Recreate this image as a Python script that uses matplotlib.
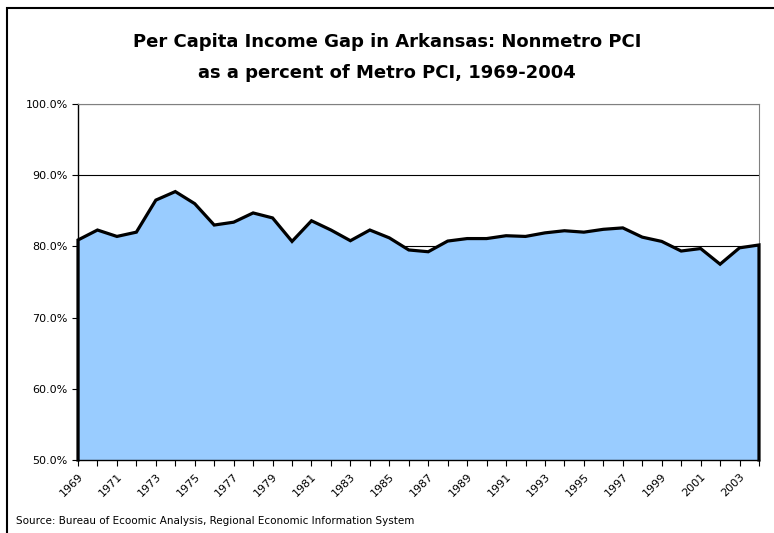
import matplotlib
matplotlib.use("Agg")
import matplotlib.pyplot as plt
from matplotlib.patches import Rectangle
from matplotlib.ticker import FuncFormatter

years = list(range(1969, 2005))
pct = [80.9, 82.3, 81.4, 82.0, 86.5, 87.7, 86.0, 83.0, 83.4, 84.7,
       84.0, 80.7, 83.6, 82.3, 80.8, 82.3, 81.2, 79.5, 79.25, 80.75,
       81.1, 81.1, 81.5, 81.4, 81.9, 82.2, 82.0, 82.4, 82.6, 81.3,
       80.7, 79.35, 79.7, 77.5, 79.8, 80.2]
yticks = [50, 60, 70, 80, 90, 100]

fig = plt.figure(figsize=(7.74, 5.33), dpi=100)
W, H = 774, 533
ax = fig.add_axes([78 / W, 1 - 460 / H, (759 - 78) / W, (460 - 104) / H])

# chart frame
fig.patches.append(Rectangle((7 / W, -0.05), 1.1, 1 - 8 / H + 0.05,
                             transform=fig.transFigure, fill=False,
                             edgecolor="black", linewidth=1.5))

for v in yticks[1:]:
    ax.axhline(v, color="black", linewidth=0.8, zorder=1)

ax.fill_between(years, pct, 50, color="#99CCFF", zorder=2, linewidth=0)
xs = [years[0]] + years + [years[-1]]
ys = [50] + pct + [50]
ax.plot(xs, ys, color="black", linewidth=2.3, zorder=3,
        solid_joinstyle="miter", clip_on=False)

ax.set_xlim(years[0], years[-1])
ax.set_ylim(50, 100)
ax.set_yticks(yticks)
ax.yaxis.set_major_formatter(FuncFormatter(lambda v, p: f"{v:.1f}%"))
ax.set_xticks(years)
ax.set_xticklabels([str(y) if (y - 1969) % 2 == 0 else "" for y in years],
                   rotation=45, ha="right", va="top", rotation_mode="anchor")
ax.tick_params(axis="both", direction="out", length=4, width=0.8,
               labelsize=8, colors="black")
ax.tick_params(axis="x", pad=4)

for s in ["top", "right"]:
    ax.spines[s].set_color("#808080")
    ax.spines[s].set_linewidth(0.8)
ax.spines["left"].set_linewidth(1.0)
ax.spines["bottom"].set_linewidth(1.0)

fig.text(0.5, 1 - 42 / H, "Per Capita Income Gap in Arkansas: Nonmetro PCI",
         ha="center", va="center", fontsize=13, fontweight="bold")
fig.text(0.5, 1 - 73 / H, "as a percent of Metro PCI, 1969-2004",
         ha="center", va="center", fontsize=13, fontweight="bold")
fig.text(16 / W, 1 - 521 / H,
         "Source: Bureau of Ecoomic Analysis, Regional Economic Information System",
         ha="left", va="center", fontsize=7.5)

fig.savefig("out.png", dpi=100)
